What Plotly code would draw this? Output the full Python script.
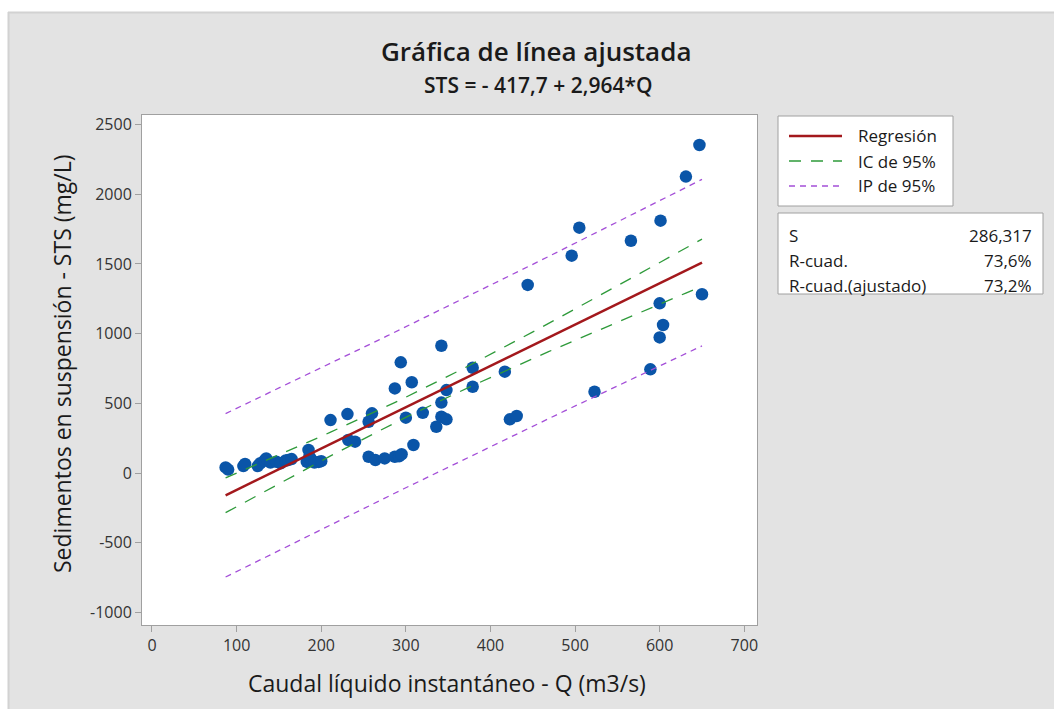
import numpy as np
import plotly.graph_objects as go

# ---- data ----
q_values = [87, 90, 108, 110, 125, 128, 133, 135, 140, 147, 152, 158, 161, 165,
            183, 185, 186, 188, 192, 197, 200,
            211, 231, 232, 240, 256, 260, 256, 264, 275, 287, 292, 295,
            287, 294, 307, 300, 309, 320, 336, 342, 348, 342, 348, 342,
            379, 379, 417, 423, 431, 444, 496, 505, 523, 566, 589, 600,
            604, 600, 601, 631, 647, 650]
sts_values = [40, 25, 50, 65, 50, 70, 90, 105, 75, 81, 70, 90, 93, 100,
              80, 165, 120, 100, 75, 80, 85,
              380, 423, 237, 225, 368, 428, 117, 93, 105, 117, 120, 135,
              607, 794, 651, 397, 201, 432, 332, 404, 385, 505, 595, 913,
              755, 619, 727, 385, 409, 1349, 1559, 1760, 583, 1666, 744, 973,
              1062, 1217, 1810, 2126, 2353, 1282]

intercept = -417.7
slope = 2.964
s_value = 286.317
t_crit = 2.0
legend_names = ["Regresión", "IC de 95%", "IP de 95%"]
stats_labels = ["S", "R-cuad.", "R-cuad.(ajustado)"]
stats_values = ["286,317", "73,6%", "73,2%"]

x_ticks = [0, 100, 200, 300, 400, 500, 600, 700]
x_ticktext = ["0", "100", "200", "300", "400", "500", "600", "700"]
y_ticks = [-1000, -500, 0, 500, 1000, 1500, 2000, 2500]
y_ticktext = ["-1000", "-500", "0", "500", "1000", "1500", "2000", "2500"]

# ---- regression bands ----
xq = np.array(q_values, dtype=float)
n = len(xq)
xbar = xq.mean()
sxx = ((xq - xbar) ** 2).sum()
xl = np.linspace(xq.min(), xq.max(), 60)
fit = intercept + slope * xl
ci = t_crit * s_value * np.sqrt(1 / n + (xl - xbar) ** 2 / sxx)
pi = t_crit * s_value * np.sqrt(1 + 1 / n + (xl - xbar) ** 2 / sxx)


def band(lo, hi):
    xs = list(xl) + [None] + list(xl)
    ys = list(hi) + [None] + list(lo)
    return xs, ys


FONT = "Open Sans"
TXT = "#1a1a1a"
C_REG = "#a3181c"
C_CI = "#2e9a3a"
C_PI = "#a44fd8"
DASH_CI = "12px,10px"
DASH_PI = "6px,5px"

fig = go.Figure()
fig.add_trace(go.Scatter(x=q_values, y=sts_values, mode="markers",
                         marker=dict(color="#0a55a8", size=12.5),
                         showlegend=False, hoverinfo="x+y"))
fig.add_trace(go.Scatter(x=xl, y=fit, mode="lines", name=legend_names[0], showlegend=False,
                         line=dict(color=C_REG, width=2.5)))
cx, cy = band(fit - ci, fit + ci)
fig.add_trace(go.Scatter(x=cx, y=cy, mode="lines", name=legend_names[1], showlegend=False,
                         line=dict(color=C_CI, width=1.3, dash=DASH_CI)))
px_, py_ = band(fit - pi, fit + pi)
fig.add_trace(go.Scatter(x=px_, y=py_, mode="lines", name=legend_names[2], showlegend=False,
                         line=dict(color=C_PI, width=1.3, dash=DASH_PI)))

L, R, T, B = 142, 297, 115, 84
W, H = 1054, 709
pw, ph = W - L - R, H - T - B


def xp(px):
    return (px - L) / pw


def yp(py):
    return (H - B - py) / ph


shapes = [
    dict(type="rect", xref="paper", yref="paper", x0=xp(-5), x1=xp(W + 5), y0=yp(12), y1=yp(-5),
         fillcolor="white", line=dict(width=0), layer="below"),
    dict(type="rect", xref="paper", yref="paper", x0=xp(-5), x1=xp(8), y0=yp(H + 5), y1=yp(-5),
         fillcolor="white", line=dict(width=0), layer="below"),
    dict(type="line", xref="paper", yref="paper", x0=xp(8), x1=xp(W), y0=yp(12.5), y1=yp(12.5),
         line=dict(color="#d2d2d2", width=2)),
    dict(type="line", xref="paper", yref="paper", x0=xp(8.5), x1=xp(8.5), y0=yp(12), y1=yp(H),
         line=dict(color="#d2d2d2", width=2)),
    # legend box
    dict(type="rect", xref="paper", yref="paper", x0=xp(778), x1=xp(953), y0=yp(206), y1=yp(116),
         fillcolor="white", line=dict(color="#a0a0a0", width=1)),
    # stats box
    dict(type="rect", xref="paper", yref="paper", x0=xp(778), x1=xp(1043), y0=yp(294), y1=yp(213),
         fillcolor="white", line=dict(color="#a0a0a0", width=1)),
]

legend_rows = [136, 161, 186]
legend_styles = [(C_REG, 2.5, "solid"), (C_CI, 1.5, DASH_CI), (C_PI, 1.5, DASH_PI)]
for ry, (col, wd, dsh) in zip(legend_rows, legend_styles):
    shapes.append(dict(type="line", xref="paper", yref="paper", x0=xp(789), x1=xp(842),
                       y0=yp(ry), y1=yp(ry), line=dict(color=col, width=wd, dash=dsh)))

annotations = [
    dict(text="Gráfica de línea ajustada", xref="paper", yref="paper", x=xp(536), y=yp(51),
         showarrow=False, font=dict(family=FONT, size=26, color=TXT, weight=600),
         xanchor="center", yanchor="middle"),
    dict(text="STS = - 417,7 + 2,964*Q", xref="paper", yref="paper", x=xp(538), y=yp(85),
         showarrow=False, font=dict(family=FONT, size=21, color=TXT, weight=600),
         xanchor="center", yanchor="middle"),
    dict(text="Caudal líquido instantáneo - Q (m3/s)", xref="paper", yref="paper",
         x=xp(447), y=yp(683), showarrow=False, xanchor="center", yanchor="middle",
         font=dict(family=FONT, size=23, color=TXT)),
    dict(text="Sedimentos en suspensión - STS (mg/L)", xref="paper", yref="paper",
         x=xp(62), y=yp(364), showarrow=False, xanchor="center", yanchor="middle", textangle=-90,
         font=dict(family=FONT, size=23, color=TXT)),
]
for name, ry in zip(legend_names, legend_rows):
    annotations.append(dict(text=name, xref="paper", yref="paper", x=xp(856), y=yp(ry),
                            showarrow=False, xanchor="left", yanchor="middle",
                            font=dict(family=FONT, size=17, color=TXT)))
row_y = [235, 260, 285]
for lab, val, ry in zip(stats_labels, stats_values, row_y):
    annotations.append(dict(text=lab, xref="paper", yref="paper", x=xp(787), y=yp(ry),
                            showarrow=False, xanchor="left", yanchor="middle",
                            font=dict(family=FONT, size=17, color=TXT)))
    annotations.append(dict(text=val, xref="paper", yref="paper", x=xp(1034), y=yp(ry),
                            showarrow=False, xanchor="right", yanchor="middle",
                            font=dict(family=FONT, size=17, color=TXT)))

axis_common = dict(showgrid=False, zeroline=False, showline=True, linecolor="#a0a0a0",
                   linewidth=1, mirror=True, ticks="outside", ticklen=6, tickcolor="#a0a0a0",
                   tickfont=dict(family=FONT, size=16, color="#333333"))

fig.update_layout(
    width=W, height=H,
    margin=dict(l=L, r=R, t=T, b=B),
    paper_bgcolor="#e3e3e3",
    plot_bgcolor="white",
    font=dict(family=FONT, color=TXT),
    shapes=shapes,
    annotations=annotations,
    showlegend=False,
    xaxis=dict(range=[-11.8, 715], tickvals=x_ticks, ticktext=x_ticktext, **axis_common),
    yaxis=dict(range=[-1090, 2568], tickvals=y_ticks, ticktext=y_ticktext, **axis_common),
)

fig.write_html("out.html", config={"displayModeBar": False},
               post_script="document.body.style.margin='0';")
